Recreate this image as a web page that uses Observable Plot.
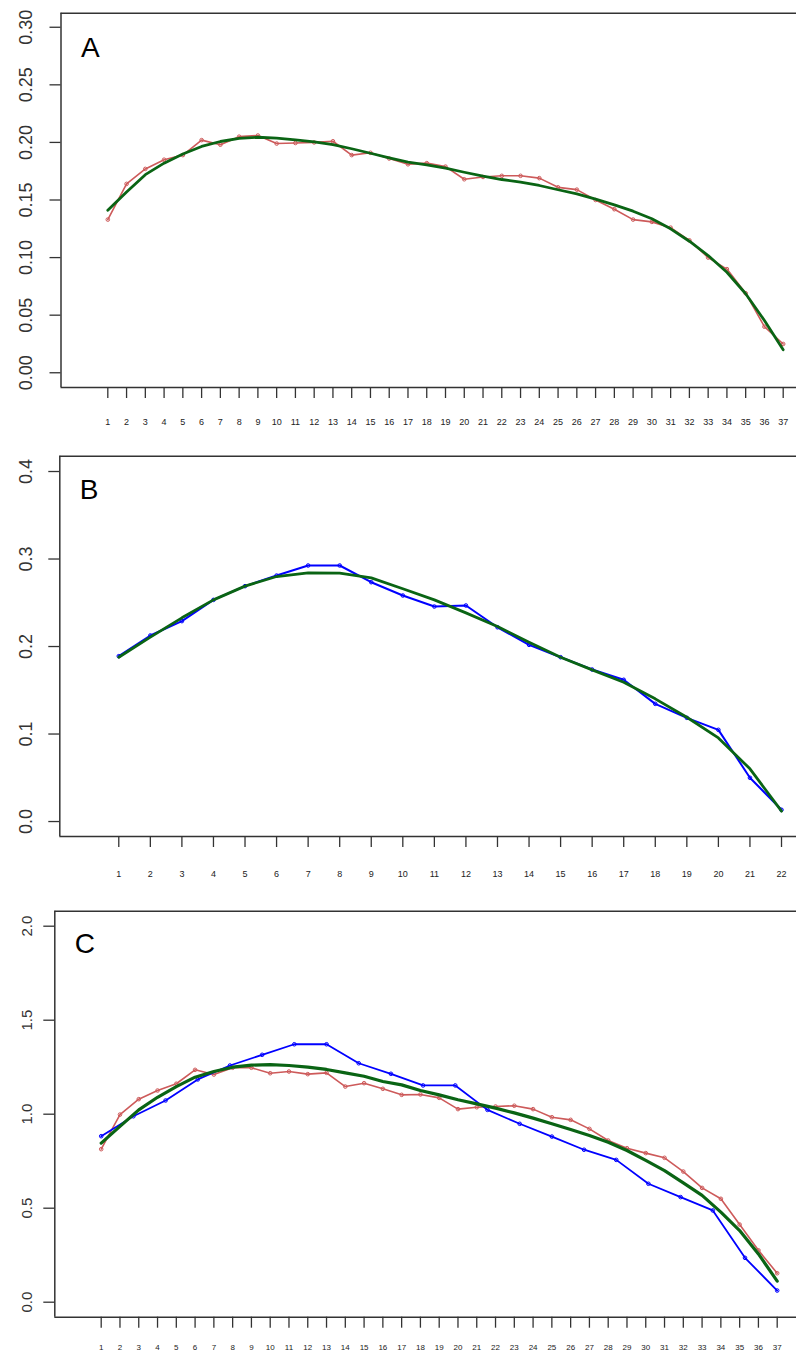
<!DOCTYPE html>
<html><head><meta charset="utf-8">
<script src="https://cdn.jsdelivr.net/npm/d3@7"></script>
<script src="https://cdn.jsdelivr.net/npm/@observablehq/plot@0.6"></script>
<style>
html,body{margin:0;padding:0;background:#fff;}
#chart{width:796px;}
#chart svg{display:block;}
</style></head><body><div id="chart"></div>
<script>
// ---- data ----
const idxA = d3.range(1, 38);
const redA = [0.133,0.164,0.177,0.185,0.189,0.202,0.198,0.205,0.206,0.199,0.1995,0.200,0.201,0.189,0.191,0.186,0.181,0.182,0.179,0.168,0.170,0.171,0.171,0.169,0.161,0.159,0.150,0.142,0.133,0.131,0.126,0.115,0.100,0.090,0.069,0.040,0.025];
const greenA = [0.141,0.157,0.172,0.182,0.190,0.1965,0.2008,0.2035,0.2045,0.2037,0.2022,0.2005,0.198,0.1945,0.1906,0.1866,0.1828,0.1805,0.1776,0.1741,0.1707,0.1678,0.1655,0.1626,0.1589,0.1554,0.1507,0.1458,0.1403,0.1337,0.125,0.1142,0.1018,0.0873,0.0686,0.0454,0.020];
const idxB = d3.range(1, 23);
const blueB = [0.189,0.2126,0.229,0.2533,0.269,0.2811,0.2926,0.2926,0.2735,0.2583,0.2457,0.2469,0.222,0.2019,0.1878,0.1737,0.162,0.1345,0.1185,0.1048,0.050,0.0134];
const greenB = [0.1878,0.2107,0.2328,0.2533,0.269,0.280,0.2842,0.2838,0.2785,0.266,0.2533,0.2385,0.2229,0.2049,0.1878,0.1733,0.1592,0.1402,0.1192,0.0956,0.0602,0.0118];
const redC = [0.814,0.998,1.080,1.126,1.162,1.236,1.211,1.247,1.247,1.218,1.227,1.213,1.220,1.147,1.165,1.135,1.103,1.105,1.087,1.027,1.037,1.041,1.045,1.027,0.984,0.970,0.922,0.860,0.819,0.793,0.768,0.695,0.608,0.550,0.413,0.276,0.154];
const greenC = [0.846,0.935,1.023,1.090,1.147,1.197,1.227,1.250,1.261,1.264,1.259,1.250,1.238,1.220,1.202,1.174,1.156,1.126,1.103,1.077,1.055,1.032,1.007,0.979,0.949,0.919,0.887,0.851,0.807,0.754,0.700,0.635,0.568,0.479,0.381,0.257,0.112];
const blueC = [0.883,0.989,1.073,1.185,1.259,1.316,1.372,1.372,1.271,1.215,1.153,1.153,1.023,0.949,0.881,0.811,0.757,0.630,0.559,0.488,0.236,0.062];
// the 22 points of the blue series spread over the 37 positions
const blueCx = idxB.map(i => 1 + (i - 1) * 36 / 21);
const yTicksA = [0, 0.05, 0.10, 0.15, 0.20, 0.25, 0.30];
const yTicksB = [0, 0.1, 0.2, 0.3, 0.4];
const yTicksC = [0, 0.5, 1.0, 1.5, 2.0];

const RED = "#cd5a5a", BLUE = "#0000ff", GREEN = "#0a6414", INK = "#333";
const FONT = "'Liberation Sans', Arial, sans-serif";

function series(xs, ys, color, sw, dots) {
  const data = ys.map((v, i) => ({x: xs[i], y: v}));
  const m = [Plot.line(data, {x: "x", y: "y", stroke: color, strokeWidth: sw})];
  if (dots) m.push(Plot.dot(data, {x: "x", y: "y", r: 1.8, stroke: color, strokeWidth: 1, fill: "none"}));
  return m;
}

function panel(o) {
  return Plot.plot({
    width: 796, height: o.height,
    marginTop: o.mt, marginBottom: o.mb, marginLeft: o.ml, marginRight: 0,
    style: {fontFamily: FONT, background: "#fff", overflow: "visible"},
    x: {domain: o.xDomain, axis: null},
    y: {domain: o.yDomain, axis: null},
    marks: [
      Plot.ruleY([o.yDomain[0], o.yDomain[1]], {stroke: INK, strokeWidth: 1.5}),
      Plot.ruleX([o.xDomain[0]], {stroke: INK, strokeWidth: 1.5}),
      Plot.axisY({ticks: o.yTicks, tickSize: 11, tickFormat: () => "", label: null, stroke: INK, strokeWidth: 1.3}),
      Plot.text(o.yTicks, {y: d => d, text: o.yFmt, frameAnchor: "left", dx: o.yDx, rotate: -90,
        textAnchor: "middle", lineAnchor: "middle", fontSize: o.yFont, fill: INK}),
      Plot.axisX({ticks: o.xTicks, tickSize: 11, tickPadding: o.xPad, tickFormat: d => String(d),
        label: null, stroke: INK, strokeWidth: 1.3, fontSize: o.xFont, fill: "#222"}),
      ...o.series,
      Plot.text([o.letter], {frameAnchor: "top-left", dx: o.lDx, dy: o.lDy, textAnchor: "start",
        lineAnchor: "middle", fontSize: 28, fill: "#000"})
    ]
  });
}

const fmt2 = d => d.toFixed(2), fmt1 = d => d.toFixed(1);

const chart = document.getElementById("chart");
chart.append(panel({
  height: 440, mt: 12.7, mb: 53, ml: 60.5,
  xDomain: [-1.495, 37.709], yDomain: [-0.0128, 0.3122],
  yTicks: yTicksA, yFmt: fmt2, yFont: 18, yDx: -34.5,
  xTicks: idxA, xPad: 20, xFont: 9,
  letter: "A", lDx: 20, lDy: 35,
  series: [...series(idxA, redA, RED, 1.6, true), ...series(idxA, greenA, GREEN, 2.8, false)]
}));
chart.append(panel({
  height: 450, mt: 15.7, mb: 54, ml: 59.3,
  xDomain: [-0.869, 22.475], yDomain: [-0.0171, 0.4175],
  yTicks: yTicksB, yFmt: fmt1, yFont: 18, yDx: -34,
  xTicks: idxB, xPad: 23, xFont: 9,
  letter: "B", lDx: 20, lDy: 34,
  series: [...series(idxB, blueB, BLUE, 2, true), ...series(idxB, greenB, GREEN, 2.8, false)]
}));
chart.append(panel({
  height: 465, mt: 20.7, mb: 38.3, ml: 54.3,
  xDomain: [-1.471, 38.028], yDomain: [-0.0798, 2.0798],
  yTicks: yTicksC, yFmt: fmt1, yFont: 15, yDx: -28,
  xTicks: idxA, xPad: 16, xFont: 8,
  letter: "C", lDx: 20, lDy: 33,
  series: [...series(idxA, redC, RED, 1.6, true), ...series(blueCx, blueC, BLUE, 1.8, true),
           ...series(idxA, greenC, GREEN, 3.2, false)]
}));
</script>
</body></html>
